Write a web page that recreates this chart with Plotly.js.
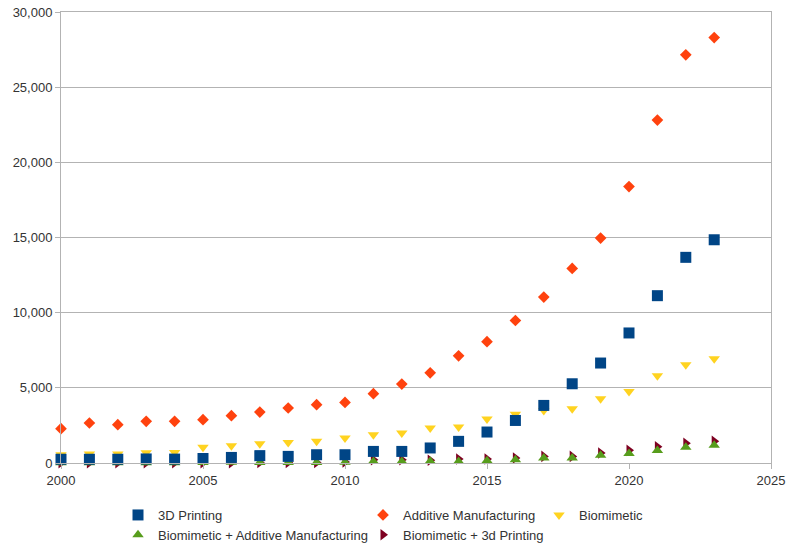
<!DOCTYPE html>
<html>
<head>
<meta charset="utf-8">
<script src="https://cdn.plot.ly/plotly-3.0.1.min.js"></script>
<style>
  html, body { margin: 0; padding: 0; background: #ffffff; }
  #chart { width: 791px; height: 547px; }
</style>
</head>
<body>
<div id="chart"></div>
<script>
// Publication counts per year
const years = [2000, 2001, 2002, 2003, 2004, 2005, 2006, 2007, 2008, 2009, 2010, 2011,
               2012, 2013, 2014, 2015, 2016, 2017, 2018, 2019, 2020, 2021, 2022, 2023];

const printing3d = [250, 250, 250, 270, 260, 300, 370, 490, 440, 550, 550, 770,
                    770, 1000, 1440, 2060, 2830, 3830, 5270, 6650, 8650, 11130, 13680, 14850];

const additiveManufacturing = [2280, 2660, 2550, 2770, 2770, 2880, 3150, 3390, 3660, 3880, 4030, 4610,
                               5250, 6000, 7130, 8070, 9480, 11040, 12940, 14960, 18390, 22810, 27150, 28300];

const biomimetic = [550, 600, 600, 690, 700, 1050, 1150, 1280, 1370, 1440, 1660, 1880,
                    2000, 2330, 2400, 2930, 3250, 3500, 3610, 4280, 4760, 5800, 6540, 6930];

const bioAdditive = [20, 20, 20, 20, 20, 30, 50, 30, 30, 40, 50, 100,
                     100, 110, 100, 150, 220, 330, 330, 520, 640, 830, 1050, 1180];

const bio3dPrinting = [10, 10, 10, 10, 10, 10, 20, 30, 30, 40, 60, 220,
                       220, 180, 260, 260, 330, 440, 440, 670, 840, 1080, 1310, 1440];

const seriesNames = ['3D Printing', 'Additive Manufacturing', 'Biomimetic',
                     'Biomimetic + Additive Manufacturing', 'Biomimetic + 3d Printing'];

const textColor = '#333333';
const gridColor = '#b3b3b3';

function series(name, y, symbol, color, size, legend, rank) {
  return {
    type: 'scatter', mode: 'markers', name: name, x: years, y: y,
    marker: { symbol: symbol, color: color, size: size, line: { width: 0 } },
    cliponaxis: false, legend: legend, legendrank: rank
  };
}

// later series are painted first so the 3D Printing squares sit on top
const data = [
  series(seriesNames[4], bio3dPrinting, 'triangle-right', '#7e0021', 10, 'legend2', 2),
  series(seriesNames[3], bioAdditive, 'triangle-up', '#579d1c', 10, 'legend', 2),
  series(seriesNames[2], biomimetic, 'triangle-down', '#ffd320', 10, 'legend3', 1),
  series(seriesNames[1], additiveManufacturing, 'diamond', '#ff420e', 9, 'legend2', 1),
  series(seriesNames[0], printing3d, 'square', '#004586', 11, 'legend', 1)
];

// plot area in pixels, used to place the legend columns under it
const plotLeft = 61, plotRight = 771, plotTop = 12, plotBottom = 463;
const plotW = plotRight - plotLeft, plotH = plotBottom - plotTop;
const px = v => (v - plotLeft) / plotW;
const py = v => (plotBottom - v) / plotH;

const legendBase = {
  xref: 'paper', yref: 'paper', xanchor: 'left', yanchor: 'top',
  orientation: 'v', bgcolor: 'rgba(0,0,0,0)', borderwidth: 0,
  itemsizing: 'trace', tracegroupgap: 0,
  font: { family: 'Liberation Sans, Arial, sans-serif', size: 13, color: textColor }
};

const layout = {
  width: 791, height: 547,
  margin: { l: plotLeft, r: 791 - plotRight, t: plotTop, b: 547 - plotBottom, pad: 0, autoexpand: false },
  paper_bgcolor: '#ffffff', plot_bgcolor: '#ffffff',
  font: { family: 'Liberation Sans, Arial, sans-serif', size: 13, color: textColor },
  showlegend: true,
  xaxis: {
    range: [2000, 2025], dtick: 5, tick0: 2000, tickformat: 'd',
    showgrid: false, zeroline: false,
    showline: true, linecolor: gridColor, linewidth: 1, mirror: true,
    ticks: 'outside', ticklen: 5, tickcolor: gridColor
  },
  yaxis: {
    range: [0, 30000], dtick: 5000, tick0: 0, tickformat: ',d',
    showgrid: true, gridcolor: gridColor, gridwidth: 1, zeroline: false,
    showline: true, linecolor: gridColor, linewidth: 1, mirror: true,
    ticks: 'outside', ticklen: 5, tickcolor: gridColor
  },
  legend: Object.assign({}, legendBase, { x: px(118), y: py(500) }),
  legend2: Object.assign({}, legendBase, { x: px(363), y: py(500) }),
  legend3: Object.assign({}, legendBase, { x: px(539), y: py(500) })
};

Plotly.newPlot('chart', data, layout, { displayModeBar: false, staticPlot: true });
</script>
</body>
</html>
